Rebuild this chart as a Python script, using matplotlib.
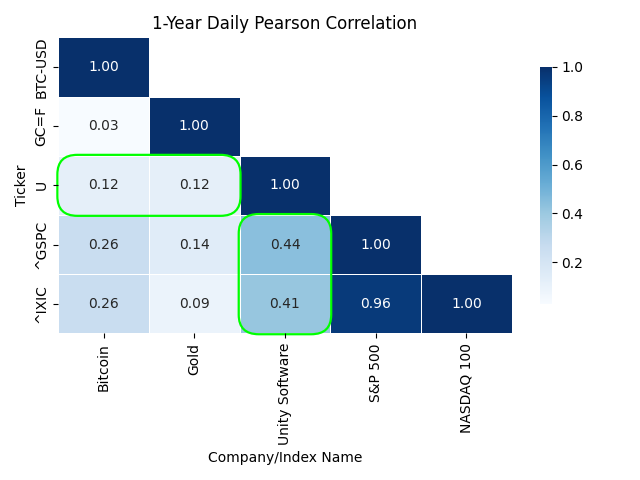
import matplotlib
matplotlib.use('Agg')
import matplotlib.pyplot as plt
from matplotlib.patches import FancyBboxPatch
import numpy as np
import pandas as pd
import seaborn as sns

# tickers (rows) and names (columns)
tickers = ['BTC-USD', 'GC=F', 'U', '^GSPC', '^IXIC']
names = ['Bitcoin', 'Gold', 'Unity Software', 'S&P 500', 'NASDAQ 100']

# lower triangle of the correlation matrix, row by row
row_btc = [1.00]
row_gold = [0.03, 1.00]
row_u = [0.12, 0.12, 1.00]
row_gspc = [0.26, 0.14, 0.44, 1.00]
row_ixic = [0.26, 0.09, 0.41, 0.96, 1.00]

rows = [row_btc, row_gold, row_u, row_gspc, row_ixic]
n = len(tickers)
corr = np.full((n, n), np.nan)
for i, r in enumerate(rows):
    for j, v in enumerate(r):
        corr[i, j] = v
        corr[j, i] = v
corr_df = pd.DataFrame(corr, index=tickers, columns=names)
mask = np.triu(np.ones_like(corr, dtype=bool), k=1)

fig, ax = plt.subplots(figsize=(6.4, 4.8))
sns.heatmap(corr_df, mask=mask, cmap='Blues', annot=True, fmt='.2f',
            linewidths=0.5, cbar_kws={'shrink': 0.8}, ax=ax)
ax.set_title('1-Year Daily Pearson Correlation')
ax.set_xlabel('Company/Index Name')
ax.set_ylabel('Ticker')

# highlight boxes (x, y, width, height in cell units)
highlights = [(0, 2, 2, 1), (2, 3, 1, 2)]
for x0, y0, w, h in highlights:
    box = FancyBboxPatch((x0, y0), w, h,
                         boxstyle='round,pad=0.01,rounding_size=0.22',
                         mutation_aspect=1.5, fill=False,
                         edgecolor='#00ff00', linewidth=1.6, clip_on=False)
    ax.add_patch(box)

plt.tight_layout()
plt.savefig('out.png', dpi=100)
